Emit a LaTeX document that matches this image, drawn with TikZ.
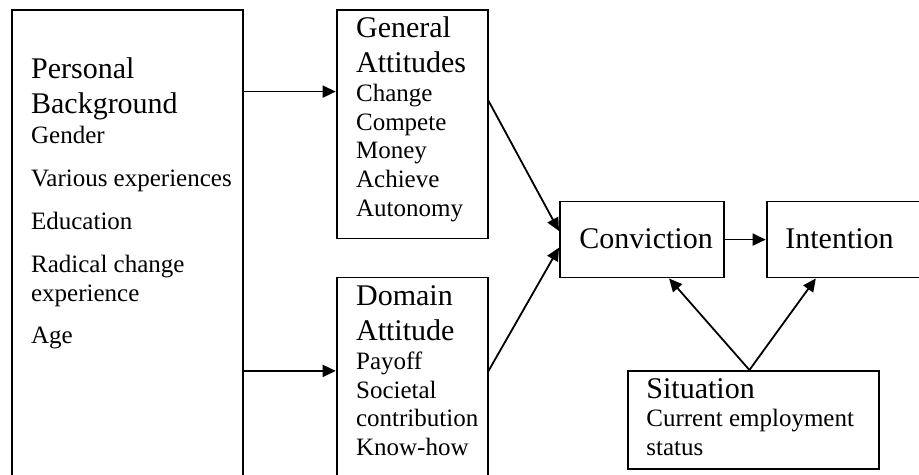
\documentclass[tikz,border=0pt]{standalone}
\usepackage{fontspec}
\setmainfont{Liberation Serif}
\usetikzlibrary{arrows.meta}
\newcommand{\headfont}{\fontsize{15}{17.25}\selectfont}
\newcommand{\itemfont}{\fontsize{12.5}{14.4}\selectfont}
\tikzset{
  box/.style={draw, line width=0.9pt, inner sep=0pt, anchor=north west},
  txt/.style={anchor=base west, inner sep=0pt},
  arr/.style={line width=0.9pt, -{Triangle[length=6.5pt,width=6pt]}}
}

\begin{document}
\begin{tikzpicture}[x=0.5pt,y=-0.5pt]
  \useasboundingbox (0,0) rectangle (919,475);
  \clip (0,0) rectangle (919,475);
  \node[box, minimum width=115.5pt, minimum height=240.5pt] (bg) at (11,9) {};
  \node[box, minimum width=75.5pt, minimum height=114.3pt] (gen) at (335.7,9) {};
  \node[box, minimum width=75.5pt, minimum height=106.7pt] (dom) at (335.7,276.7) {};
  \node[box, minimum width=82.2pt, minimum height=38pt] (conv) at (559,200.7) {};
  \node[box, minimum width=97.2pt, minimum height=38pt] (int) at (765.7,200.7) {};
  \node[box, minimum width=125.8pt, minimum height=49.2pt] (sit) at (626.7,370) {};

  \node[txt] (bgtxt) at (30.7,79) {\parbox[t]{125pt}{\headfont Personal\par Background\par
    \itemfont\vspace{0.8pt}Gender\par\vspace{7pt}Various experiences\par\vspace{7pt}Education\par
    \vspace{7pt}Radical change\par experience\par\vspace{7pt}Age\par}};
  \node[txt] (gentxt) at (355.7,38) {\parbox[t]{80pt}{\headfont General\par Attitudes\par
    \itemfont Change\par Compete\par Money\par Achieve\par Autonomy\par}};
  \node[txt] (domtxt) at (355.7,306) {\parbox[t]{80pt}{\headfont Domain\par Attitude\par
    \itemfont Payoff\par Societal\par contribution\par Know-how\par}};
  \node[txt] (convtxt) at (579,249) {\headfont Conviction};
  \node[txt] (inttxt) at (785,249) {\headfont Intention};
  \node[txt] (sittxt) at (646,398) {\parbox[t]{120pt}{\headfont Situation\par
    \itemfont Current employment\par status\par}};

  \path ([yshift=16.3pt]gen.west) coordinate (gin);
  \path ([yshift=6.7pt]dom.west) coordinate (din);
  \draw[arr] (bg.east |- gin) -- (gin);
  \draw[arr] (bg.east |- din) -- (din);
  \draw[arr] ([yshift=11.7pt]gen.east) -- ([yshift=4.3pt]conv.west);
  \draw[arr] (dom.east |- din) -- ([yshift=-4pt]conv.west);
  \draw[arr] (conv.east) -- (conv.east -| int.west);
  \draw[arr] ([xshift=-2pt]sit.north) -- ([xshift=13.5pt]conv.south);
  \draw[arr] ([xshift=-2pt]sit.north) -- ([xshift=-24pt]int.south);
\end{tikzpicture}
\end{document}
